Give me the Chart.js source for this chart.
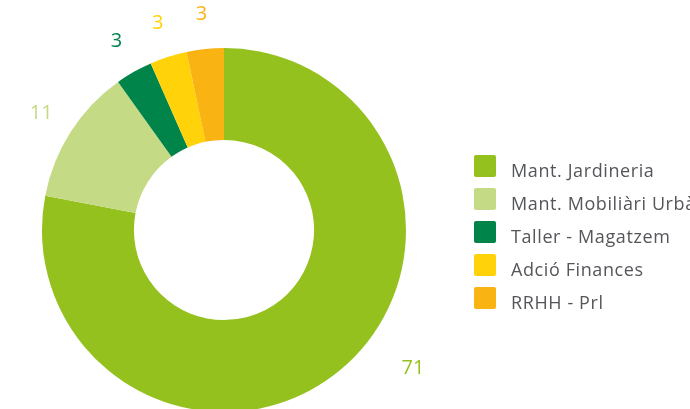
<!DOCTYPE html>
<html>
<head>
<meta charset="utf-8">
<script src="https://cdn.jsdelivr.net/npm/chart.js@4.4.1/dist/chart.umd.min.js"></script>
<style>
  html, body { margin: 0; padding: 0; background: #fff; overflow: hidden; }
  #wrap { width: 690px; height: 409px; overflow: hidden; }
</style>
</head>
<body>
<div id="wrap"><canvas id="donut" width="690" height="420"></canvas></div>
<script>
var categories = ['Mant. Jardineria', 'Mant. Mobiliàri Urbà', 'Taller - Magatzem', 'Adció Finances', 'RRHH - Prl'];
var values = [71, 11, 3, 3, 3];
var colors = ['#95c11f', '#c5da85', '#00844a', '#ffd20a', '#f9b414'];

// numbers outside the ring, placed on each slice's mid angle
var outerLabels = {
    id: 'outerLabels',
    afterDatasetsDraw: function(chart) {
        var ctx = chart.ctx;
        var arcs = chart.getDatasetMeta(0).data;
        var maxY = chart.height - 52;
        ctx.save();
        ctx.font = '20px "Open Sans"';
        ctx.textAlign = 'center';
        ctx.textBaseline = 'middle';
        arcs.forEach(function(arc, i) {
            var mid = (arc.startAngle + arc.endAngle) / 2;
            var d = arc.outerRadius + 35;
            var x = arc.x + Math.cos(mid) * d;
            var y = arc.y + Math.sin(mid) * d;
            if (y > maxY) {
                // pushed up and outwards when it would fall off the bottom
                d = arc.outerRadius + 52;
                var dy = maxY - arc.y;
                y = maxY;
                x = arc.x + Math.sqrt(d * d - dy * dy) * (Math.cos(mid) >= 0 ? 1 : -1);
            }
            ctx.fillStyle = colors[i];
            ctx.fillText(String(values[i]), x, y);
        });
        ctx.restore();
    }
};

// legend on the right, square swatches with rounded corners
var sideLegend = {
    id: 'sideLegend',
    afterDraw: function(chart) {
        var ctx = chart.ctx;
        var x = 474, top = 155, step = 33, box = 22;
        ctx.save();
        ctx.font = '18px "Open Sans"';
        ctx.letterSpacing = '0.6px';
        ctx.textBaseline = 'alphabetic';
        ctx.textAlign = 'left';
        chart.data.labels.forEach(function(label, i) {
            var y = top + i * step;
            ctx.fillStyle = colors[i];
            ctx.beginPath();
            ctx.roundRect(x, y, box, box, 2);
            ctx.fill();
            ctx.fillStyle = '#55565a';
            ctx.fillText(label, x + 37, y + 21.5);
        });
        ctx.restore();
    }
};

new Chart(document.getElementById('donut'), {
    type: 'doughnut',
    data: {
        labels: categories,
        datasets: [{
            data: values,
            backgroundColor: colors,
            borderWidth: 0
        }]
    },
    options: {
        responsive: false,
        animation: false,
        cutout: '49.5%',
        layout: { padding: { left: 42, top: 48, right: 284, bottom: 8 } },
        plugins: {
            legend: { display: false },
            tooltip: { enabled: false }
        }
    },
    plugins: [outerLabels, sideLegend]
});
</script>
</body>
</html>
